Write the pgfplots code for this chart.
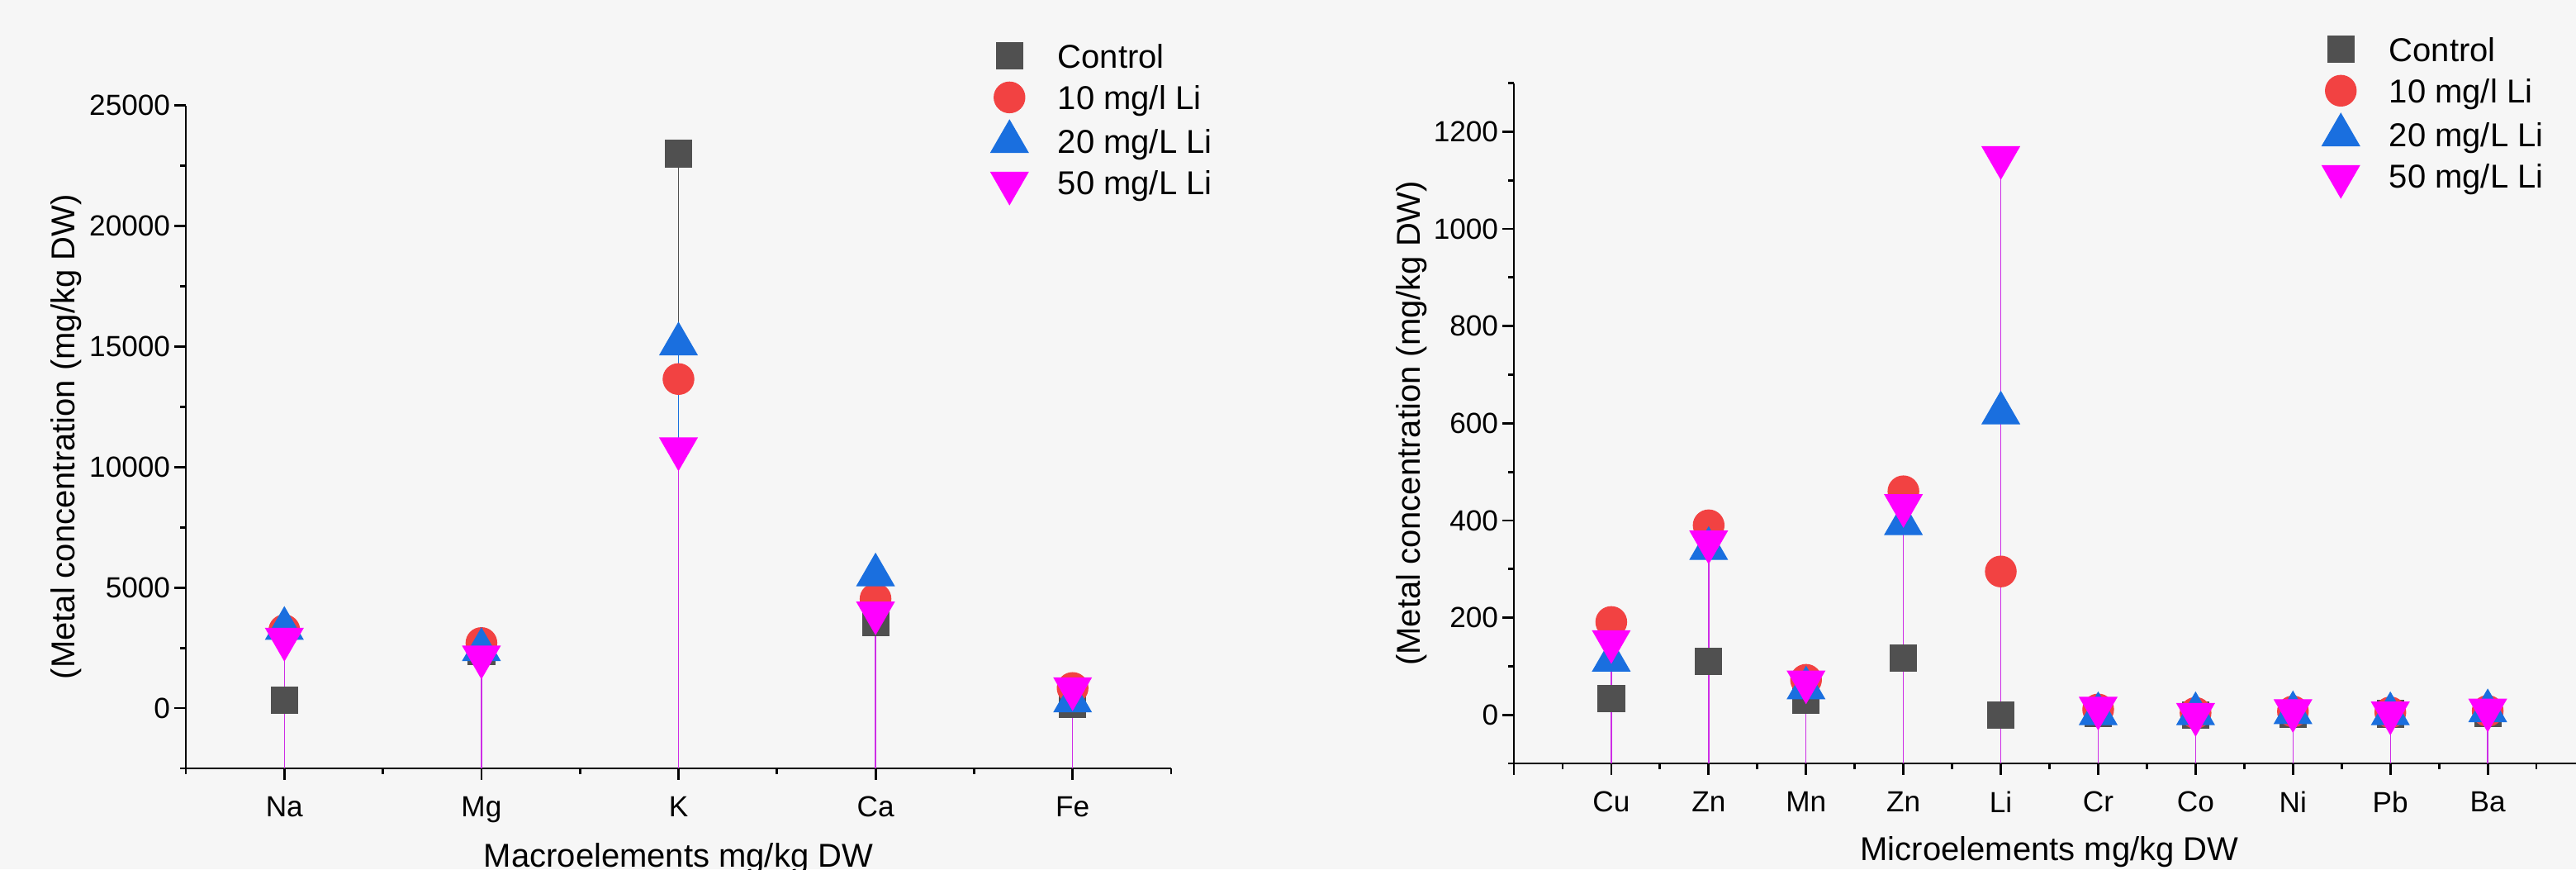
\documentclass[border=0pt]{standalone}
\usepackage{pgfplots}
\pgfplotsset{compat=1.18}
\usepackage{fontspec}
\setmainfont{Liberation Sans}

\definecolor{bg}{RGB}{246,246,246}
\definecolor{ctrl}{RGB}{80,80,80}
\definecolor{li10}{RGB}{242,66,66}
\definecolor{li20}{RGB}{26,111,223}
\definecolor{li50}{RGB}{255,0,255}
\definecolor{stem50}{RGB}{205,45,230}

\pgfplotsset{
  conc/.style={
    scale only axis,
    axis x line=bottom, axis y line=left,
    axis line style={-, line width=0.7pt, black},
    tick align=outside,
    major tick length=3.5pt, minor tick length=1.75pt,
    every tick/.style={black, line width=0.7pt},
    tick label style={font=\fontsize{8.8}{10}\selectfont},
    yticklabel style={xshift=2.3pt},
    xticklabel style={yshift=-1.5pt},
    label style={font=\fontsize{10}{12}\selectfont},
    /pgf/number format/assume math mode=true,
    /pgf/number format/1000 sep={},
    scaled y ticks=false,
    xlabel style={anchor=north, inner sep=0pt},
    ylabel style={anchor=center},
    legend cell align=left,
    legend style={draw=none, fill=none, inner sep=0pt, anchor=north west,
      font=\fontsize{10}{12}\selectfont, row sep=1.3pt, column sep=8pt,
      nodes={inner sep=1pt, text height=8.2pt, text depth=1pt}},
    legend image code/.code={\draw[#1] plot coordinates {(0pt,0pt)};},
  },
  sctrl/.style={only marks, mark=square*, mark size=4pt,
    mark options={fill=ctrl, draw=ctrl, line width=0.3pt},
    error bars/.cd, y dir=minus, y fixed=#1, error mark=none,
    error bar style={ctrl, line width=0.3pt}},
  s10/.style={only marks, mark=*, mark size=4.65pt,
    mark options={fill=li10, draw=li10, line width=0.3pt},
    error bars/.cd, y dir=minus, y fixed=#1, error mark=none,
    error bar style={li10, line width=0.3pt}},
  s20/.style={only marks, mark=triangle*, mark size=6.5pt,
    mark options={fill=li20, draw=li20, line width=0.3pt},
    error bars/.cd, y dir=minus, y fixed=#1, error mark=none,
    error bar style={li20, line width=0.3pt}},
  s50/.style={only marks, mark=triangle*, mark size=6.5pt,
    mark options={fill=li50, draw=li50, line width=0.3pt, rotate=180},
    error bars/.cd, y dir=minus, y fixed=#1, error mark=none,
    error bar style={stem50, line width=0.35pt}},
}

\begin{document}
\begin{tikzpicture}
\fill[bg] (0,0) rectangle (779.75pt,263pt);
\useasboundingbox (0,0) rectangle (779.75pt,263pt);

% macroelements
\begin{axis}[conc,
  at={(56.25pt,30.5pt)}, anchor=south west,
  width=298.25pt, height=200.6pt,
  xmin=0.5, xmax=5.5, ymin=-2500, ymax=25000,
  xtick={1,...,5}, xticklabels={Na,Mg,K,Ca,Fe},
  minor xtick={0.5,1.5,...,5.5},
  ytick={0,5000,...,25000}, minor ytick={-2500,2500,...,22500},
  xlabel={Macroelements mg/kg DW},
  ylabel={(Metal concentration (mg/kg DW)},
  xlabel style={at={(axis description cs:0.5,-0.1121)}},
  ylabel style={at={(axis description cs:-0.1215,0.5)}},
  legend style={at={(0.8164,1.1033)}},
]
\addplot+[sctrl=40000] coordinates {(1,330) (2,2340) (3,23000) (4,3560) (5,170)};
\addlegendentry{Control}
\addplot+[s10=40000] coordinates {(1,3230) (2,2700) (3,13650) (4,4530) (5,835)};
\addlegendentry{10 mg/l Li}
\addplot+[s20=40000] coordinates {(1,3300) (2,2420) (3,15100) (4,5520) (5,290)};
\addlegendentry{20 mg/L Li}
\addplot+[s50=40000] coordinates {(1,2860) (2,2125) (3,10760) (4,3950) (5,810)};
\addlegendentry{50 mg/L Li}
\end{axis}

% microelements
\begin{axis}[conc,
  at={(458.25pt,32pt)}, anchor=south west,
  width=324.25pt, height=205.85pt,
  xmin=0, xmax=11, ymin=-100, ymax=1300,
  xtick={0,...,10}, xticklabels={,Cu,Zn,Mn,Zn,Li,Cr,Co,Ni,Pb,Ba},
  minor xtick={0.5,1.5,...,10.5},
  ytick={0,200,...,1200}, minor ytick={-100,100,...,1300},
  xlabel={Microelements mg/kg DW},
  ylabel={(Metal concentration (mg/kg DW)},
  xlabel style={at={(axis description cs:0.5,-0.1065)}},
  ylabel style={at={(axis description cs:-0.0956,0.5)}},
  legend style={at={(0.754,1.0777)}},
]
\addplot+[sctrl=2000] coordinates {(1,34) (2,110) (3,31) (4,117) (5,0) (6,3) (7,0) (8,2) (9,2) (10,3)};
\addlegendentry{Control}
\addplot+[s10=2000] coordinates {(1,191) (2,390) (3,72) (4,460) (5,295) (6,11) (7,4) (8,7) (9,5) (10,8)};
\addlegendentry{10 mg/l Li}
\addplot+[s20=2000] coordinates {(1,112) (2,342) (3,55) (4,393) (5,621) (6,2) (7,2) (8,4) (9,2) (10,8)};
\addlegendentry{20 mg/L Li}
\addplot+[s50=2000] coordinates {(1,151) (2,356) (3,68) (4,431) (5,1147) (6,14) (7,1) (8,9) (9,4) (10,10)};
\addlegendentry{50 mg/L Li}
\end{axis}
\end{tikzpicture}
\end{document}
